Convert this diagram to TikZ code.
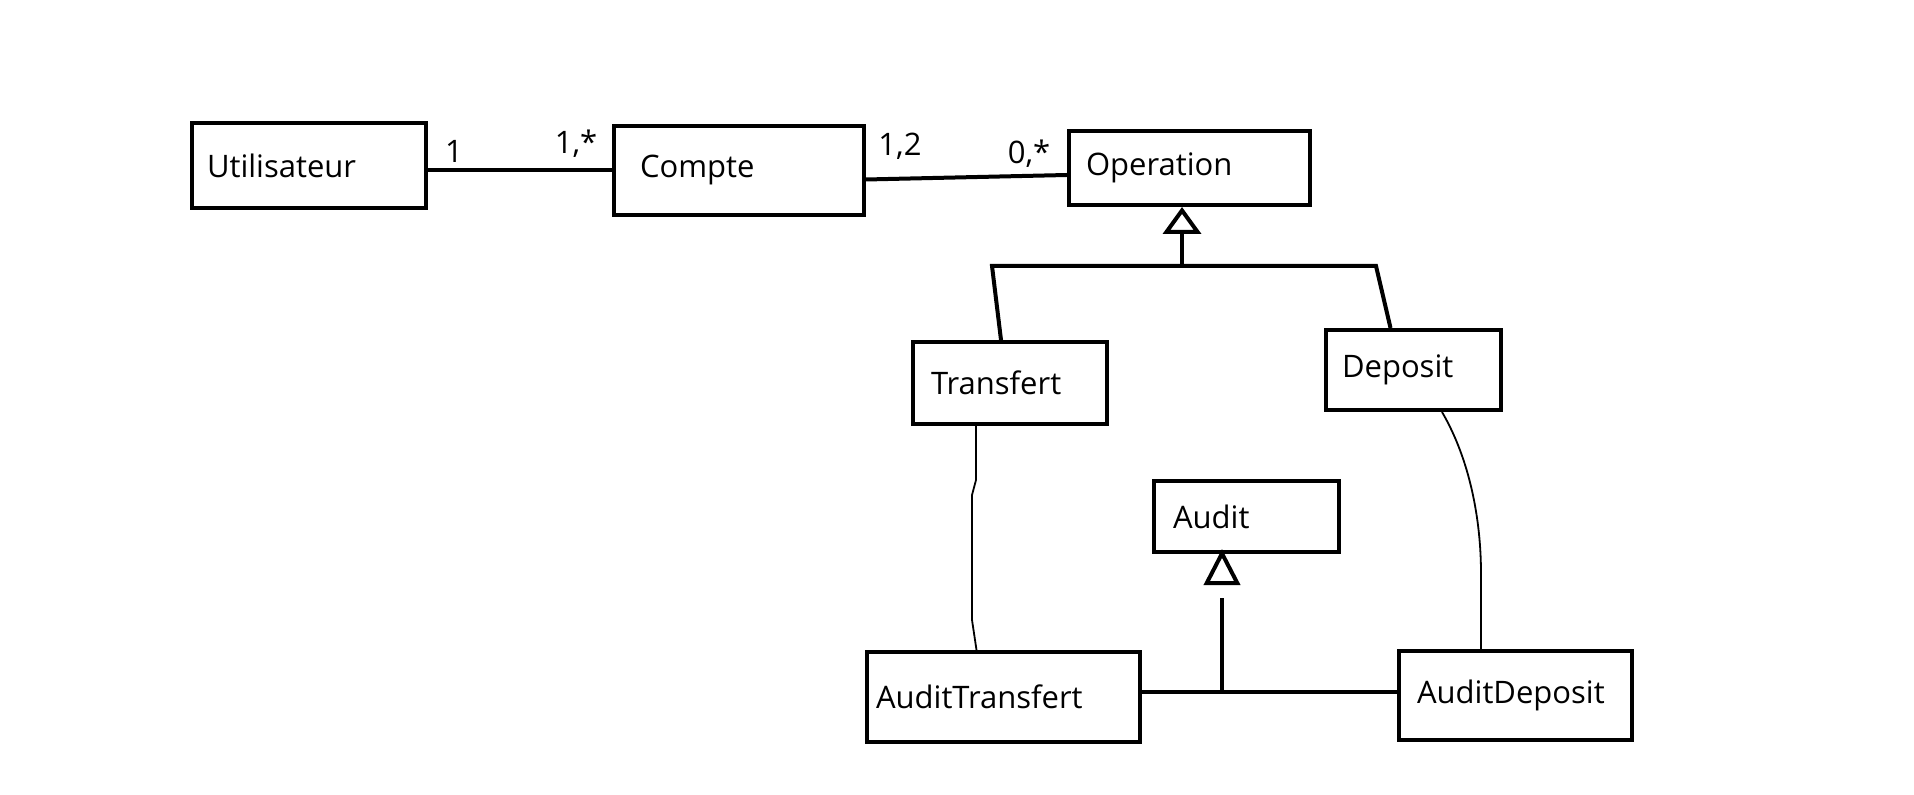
\documentclass[tikz,border=0pt]{standalone}
\usepackage{fontspec}
\setmainfont{Open Sans}
\usetikzlibrary{arrows.meta,calc}
\begin{document}
\begin{tikzpicture}[x=0.5pt,y=-0.5pt,
  txt/.style={font=\fontsize{15.5}{18}\selectfont},
  box/.style={txt, draw, line width=2pt, align=left, inner ysep=0pt},
  mult/.style={txt, inner sep=0pt},
  assoc/.style={line width=2pt},
  thin/.style={line width=0.9pt},
  gen/.style={line width=2pt},
  gentip/.style 2 args={line width=2pt, -{Triangle[open, line join=miter, length=#1, width=#2]}}
]
\useasboundingbox (0,0) rectangle (1914,795);

\node[box, text width=102pt, inner xsep=7.5pt, minimum height=42.5pt] (u) at (309,165.5) {Utilisateur};
\node[box, text width=99pt, inner xsep=13pt, minimum height=44.5pt] (c) at (739,170.5) {\raisebox{-1.5pt}{Compte}};
\node[box, text width=103.5pt, inner xsep=8.5pt, minimum height=37pt] (o) at (1189.5,168) {\raisebox{-3pt}{Operation}};
\node[box, text width=79pt, inner xsep=9pt, minimum height=41pt] (tr) at (1010,383) {Transfert};
\node[box, text width=71.5pt, inner xsep=8pt, minimum height=40pt] (de) at (1413.5,370) {Deposit};
\node[box, text width=73.5pt, inner xsep=9.5pt, minimum height=35.5pt] (au) at (1246.5,516.5) {Audit};
\node[box, text width=127.5pt, inner xsep=4.5pt, minimum height=45pt] (at) at (1003.5,697) {AuditTransfert};
\node[box, text width=98.5pt, inner xsep=9pt, minimum height=44.5pt] (ad) at (1515.5,695.5) {AuditDeposit};

% multiplicities
\node[mult] (m1) at (454,151) {1};
\node[mult] (m2) at (576,144) {1,*};
\node[mult] (m3) at (900,146) {1,2};
\node[mult] (m4) at (1029,154) {0,*};

% associations
\draw[assoc] (u.east |- c.west) -- (c.west);
\draw[assoc] ($(c.east)+(0,9)$) -- ($(o.west)+(0,7)$);

% generalization Transfert/Deposit -> Operation
\coordinate (j1) at (1182,266);
\draw[gentip={13.5pt}{19pt}] (j1) -- ($(j1 |- o.south)+(0,0)$);
\draw[gen] ($(tr.north)+(-9,0)$) -- (992,266) -- (1376,266) -- ($(de.north)+(-23,0)$);

% thin links
\draw[thin] ($(tr.south)+(-34,0)$) -- (976,480) -- (972,495) -- (972,620) -- ($(at.north)+(-27,0)$);
\draw[thin] ($(de.south)+(28.5,0)$) .. controls (1470,460) and (1481,520) .. (1481,574) -- ($(ad.north)+(-34.5,0)$);

% generalization AuditTransfert/AuditDeposit -> Audit
\coordinate (j2) at (1222,692);
\draw[assoc] (at.east |- j2) -- (j2) -- (ad.west |- j2);
\draw[gen] (j2) -- (1222,598);
\draw[gentip={18pt}{18pt}] (1222,584) -- ($(j2 |- au.south)+(0,-5)$);
\end{tikzpicture}
\end{document}
